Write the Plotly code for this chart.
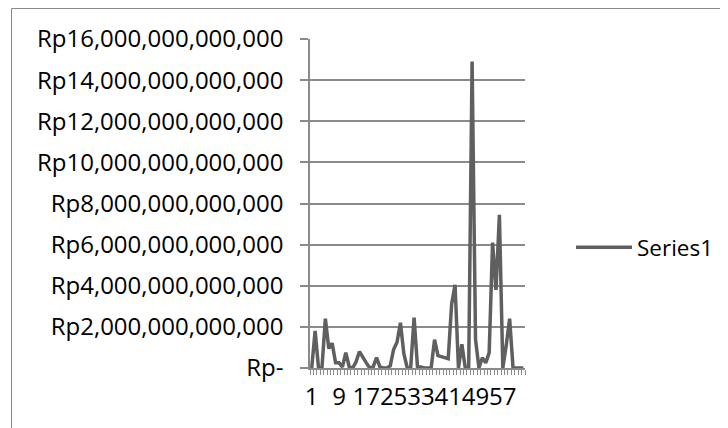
import plotly.graph_objects as go

# ---- data (values in Rupiah) ----
categories = list(range(1, 64))
values_trillion = [
    0.0, 1.8, 0.0, 0.0, 2.4, 0.95, 1.2, 0.25, 0.25, 0.05,
    0.75, 0.05, 0.0, 0.3, 0.8, 0.5, 0.25, 0.0, 0.05, 0.5,
    0.05, 0.0, 0.0, 0.1, 0.9, 1.25, 2.2, 0.7, 0.0, 0.0,
    2.45, 0.05, 0.05, 0.0, 0.0, 0.0, 1.38, 0.6, 0.55, 0.5,
    0.45, 3.1, 4.05, 0.0, 1.15, 0.0, 0.0, 14.9, 1.4, 0.0,
    0.5, 0.25, 0.75, 6.1, 3.8, 7.45, 0.0, 1.1, 2.4, 0.0,
    0.0, 0.0, 0.0,
]
series_name = "Series1"
values = [v * 1e12 for v in values_trillion]

y_tickvals = [0, 2e12, 4e12, 6e12, 8e12, 10e12, 12e12, 14e12, 16e12]
y_ticktext = ["Rp-", "Rp2,000,000,000,000", "Rp4,000,000,000,000",
              "Rp6,000,000,000,000", "Rp8,000,000,000,000",
              "Rp10,000,000,000,000", "Rp12,000,000,000,000",
              "Rp14,000,000,000,000", "Rp16,000,000,000,000"]
x_tickvals = [1, 9, 17, 25, 33, 41, 49, 57]
x_ticktext = [str(v) for v in x_tickvals]

# ---- layout constants (pixels, figure sits 8px in from the page corner) ----
OFF = 8
W, H = 720, 420
L, T = 302, 31
R = W - 517
B = H - 360.5
pw, ph = W - L - R, H - T - B

def px_x(px):
    return (px - OFF - L) / pw

def px_y(py):
    return (H - B - (py - OFF)) / ph

FONT = "Open Sans"
GRID = "#8a8a8a"

fig = go.Figure()
fig.add_trace(go.Scatter(
    x=categories, y=values, mode="lines", name=series_name,
    line=dict(color="#5f5f5f", width=3.5),
))

fig.update_layout(
    width=W, height=H,
    margin=dict(l=L, r=R, t=T, b=B, pad=0, autoexpand=False),
    paper_bgcolor="white", plot_bgcolor="white",
    font=dict(family=FONT, size=24, color="#000000"),
    showlegend=True,
    legend=dict(x=px_x(571), y=px_y(248), xanchor="left", yanchor="middle",
                font=dict(family=FONT, size=22.5, color="#000000"),
                itemwidth=56, bgcolor="rgba(0,0,0,0)"),
    xaxis=dict(
        range=[0.5, 63.5], tickmode="array", tickvals=x_tickvals,
        ticktext=x_ticktext, ticks="", showgrid=False, zeroline=False,
        showline=True, linecolor=GRID, linewidth=1.5,
        tickangle=0, automargin=False,
        ticklabelstandoff=6,
        tickfont=dict(family=FONT, size=24, color="#000000"),
        minor=dict(ticks="outside", tick0=0.5, dtick=1, ticklen=5,
                   tickcolor=GRID, tickwidth=1, showgrid=False),
    ),
    yaxis=dict(
        range=[0, 16e12], tickmode="array", tickvals=y_tickvals,
        ticktext=y_ticktext, ticks="outside", ticklen=8, tickcolor=GRID,
        tickwidth=1.5, showgrid=True, gridcolor=GRID, gridwidth=1.5,
        zeroline=False, showline=True, linecolor=GRID, linewidth=1.5,
        automargin=False,
        ticklabelstandoff=12,
        tickfont=dict(family=FONT, size=24, color="#000000"),
    ),
    shapes=[dict(type="rect", xref="paper", yref="paper",
                 x0=px_x(11.5), x1=px_x(722), y0=px_y(460), y1=px_y(8.5),
                 line=dict(color="#868686", width=1), fillcolor="rgba(0,0,0,0)",
                 layer="below")],
)

fig.write_html("out.html")
